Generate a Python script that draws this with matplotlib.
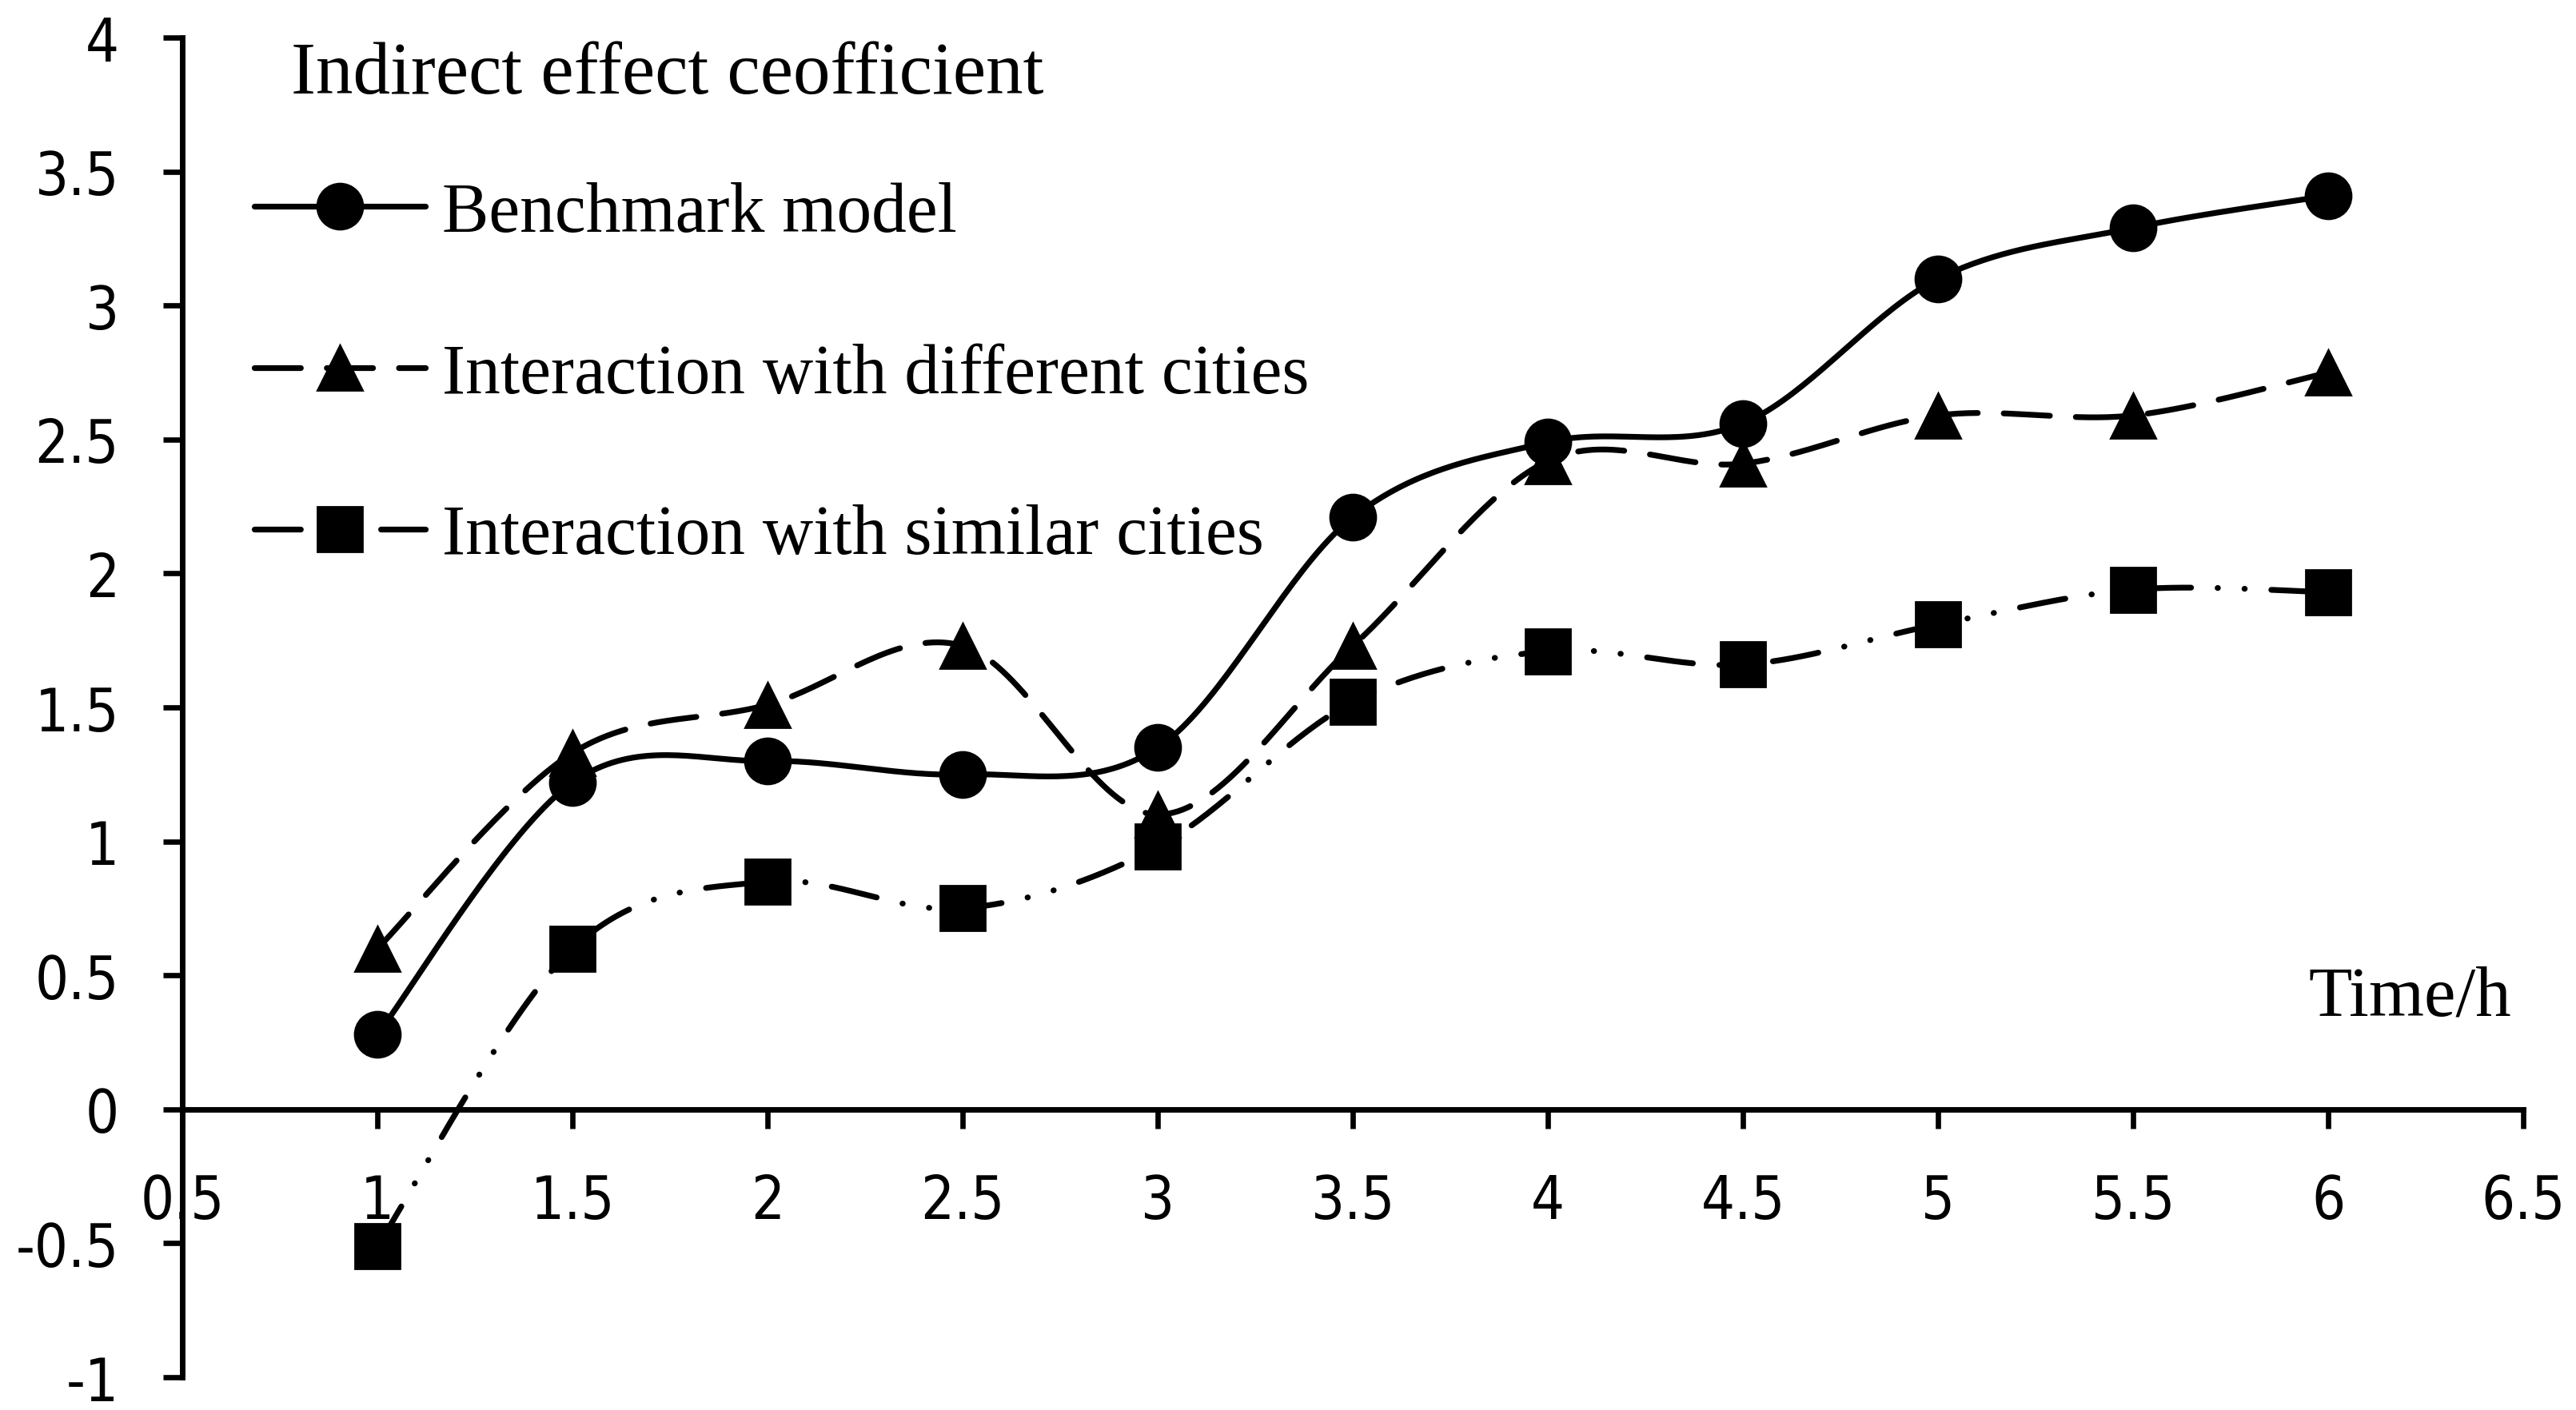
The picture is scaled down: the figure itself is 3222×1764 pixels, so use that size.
import numpy as np
import matplotlib.pyplot as plt
from matplotlib import font_manager
from matplotlib.ticker import MultipleLocator, FuncFormatter

plt.rcParams['axes.unicode_minus'] = False

# values
hours = [1, 1.5, 2, 2.5, 3, 3.5, 4, 4.5, 5, 5.5, 6]
benchmark = [0.28, 1.22, 1.30, 1.25, 1.35, 2.21, 2.49, 2.56, 3.10, 3.29, 3.41]
different = [0.60, 1.33, 1.51, 1.73, 1.10, 1.73, 2.42, 2.41, 2.59, 2.59, 2.75]
similar = [-0.51, 0.60, 0.85, 0.75, 0.98, 1.52, 1.71, 1.66, 1.81, 1.94, 1.93]
labels = ["Benchmark model", "Interaction with different cities",
          "Interaction with similar cities"]

serif = ['Liberation Serif', 'DejaVu Serif']

# narrow sans for the tick numbers, whichever is installed
names = {f.name for f in font_manager.fontManager.ttflist}
if 'Liberation Sans Narrow' in names:
    tick_font = font_manager.FontProperties(family='Liberation Sans Narrow',
                                            size=26.5)
else:
    tick_font = font_manager.FontProperties(family='DejaVu Sans',
                                            stretch='condensed', size=26.5)


def smooth(xs, ys, n=40):
    # Excel-style smoothed line: cubic Bezier through the points
    p = np.column_stack([xs, ys]).astype(float)
    ext = np.vstack([p[0], p, p[-1]])
    t = np.linspace(0, 1, n)[:, None]
    out = []
    for i in range(len(p) - 1):
        p0, p3 = p[i], p[i + 1]
        c1 = p0 + (ext[i + 2] - ext[i]) / 6
        c2 = p3 - (ext[i + 3] - ext[i + 1]) / 6
        seg = ((1 - t) ** 3 * p0 + 3 * (1 - t) ** 2 * t * c1
               + 3 * (1 - t) * t ** 2 * c2 + t ** 3 * p3)
        out.append(seg if i == 0 else seg[1:])
    out = np.vstack(out)
    return out[:, 0], out[:, 1]


fig = plt.figure(figsize=(16.11, 8.825), dpi=200)
ax = fig.add_axes([0.0708, 0.0232, 0.9088, 0.9496])

lw = 2.6
ms = 20.5
styles = [
    dict(marker='o', dashes=None),
    dict(marker='^', dashes=(8, 4.5)),
    dict(marker='s', dashes=(8, 4.6, 0.05, 4.6, 0.05, 4.6)),
]

for ys, lab, st in zip([benchmark, different, similar], labels, styles):
    sx, sy = smooth(hours, ys)
    line, = ax.plot(sx, sy, color='black', lw=lw, solid_capstyle='round',
                    dash_capstyle='round')
    if st['dashes'] is not None:
        line.set_dashes(st['dashes'])
    # markers only at the data points, proxy for the legend
    ax.plot(hours, ys, linestyle='none', marker=st['marker'], ms=ms,
            color='black', mec='black')
    proxy, = ax.plot([], [], color='black', lw=lw, marker=st['marker'],
                     ms=ms, solid_capstyle='round', dash_capstyle='round',
                     label=lab)
    if st['dashes'] is not None:
        proxy.set_dashes(st['dashes'])

ax.set_xlim(0.5, 6.5)
ax.set_ylim(-1, 4)
ax.xaxis.set_major_locator(MultipleLocator(0.5))
ax.yaxis.set_major_locator(MultipleLocator(0.5))
fmt = FuncFormatter(lambda v, p: f"{v:g}")
ax.xaxis.set_major_formatter(fmt)
ax.yaxis.set_major_formatter(fmt)

for s in ['top', 'right']:
    ax.spines[s].set_visible(False)
ax.spines['bottom'].set_position(('data', 0))
ax.spines['bottom'].set_linewidth(2.5)
ax.spines['left'].set_linewidth(2.5)

ax.tick_params(axis='x', direction='out', length=8.5, width=2.4, pad=20)
ax.tick_params(axis='y', direction='out', length=8.5, width=2.4, pad=20)
for t in ax.get_xticklabels() + ax.get_yticklabels():
    t.set_fontproperties(tick_font)

leg = ax.legend(loc='upper left', bbox_to_anchor=(318 / 3222, 1 - 228 / 1765),
                bbox_transform=fig.transFigure, frameon=False, numpoints=1,
                borderaxespad=0, borderpad=0, handlelength=2.44,
                handletextpad=0.25, labelspacing=1.38,
                prop={'family': serif, 'size': 31.5})

fig.text(364 / 3222, 1 - 117 / 1765, "Indirect effect ceofficient",
         family=serif, fontsize=33.5, va='baseline')
fig.text(3141 / 3222, 1 - 1271 / 1765, "Time/h", family=serif, fontsize=32,
         ha='right', va='baseline')

fig.savefig("out.png", dpi=200)
